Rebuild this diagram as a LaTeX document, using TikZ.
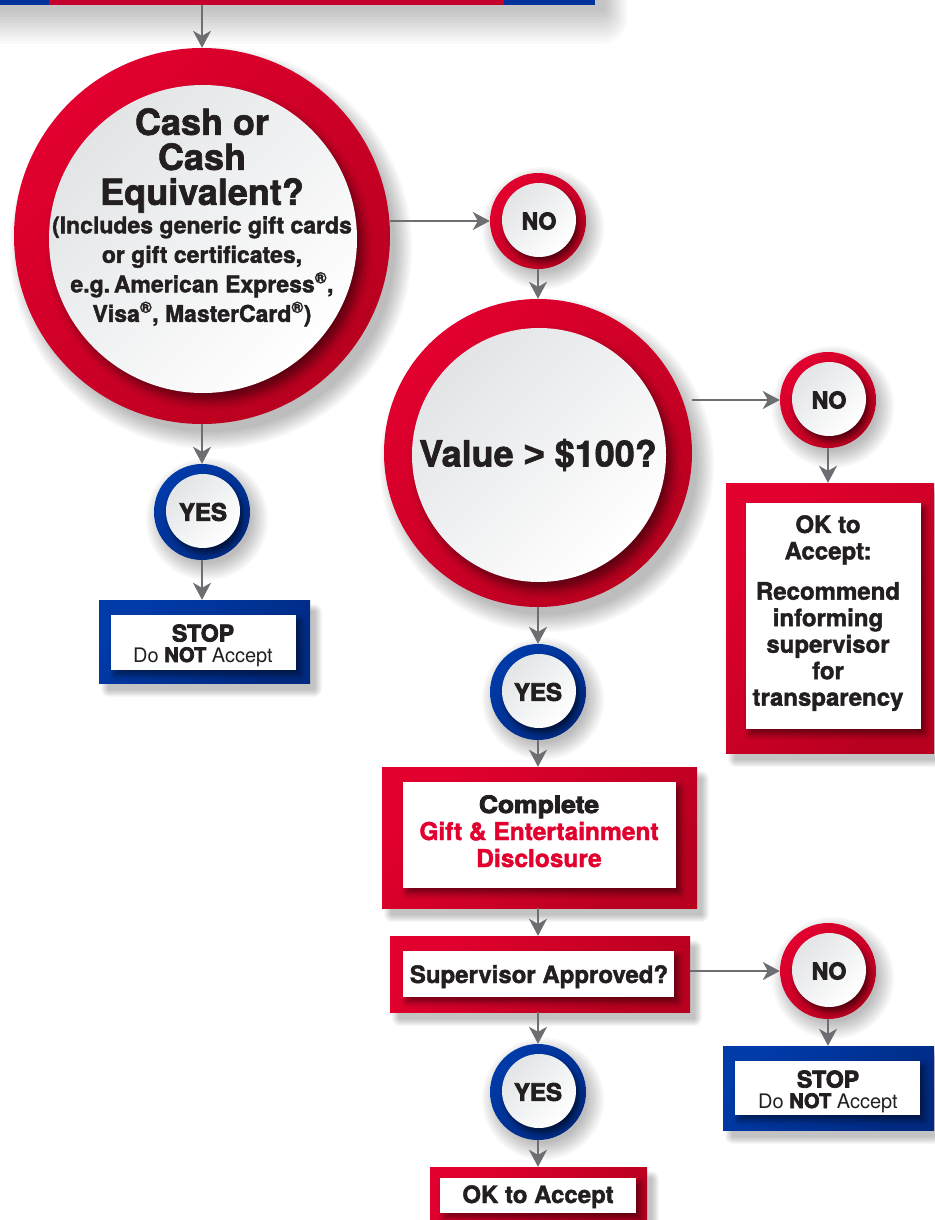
\documentclass[tikz,border=0pt]{standalone}
\usepackage{fontspec}
\usepackage{graphicx}
\setmainfont{TeX Gyre Heros}[BoldFeatures={FakeBold=1.7}]
\newfontfamily\heavyfont[BoldFeatures={FakeBold=3.5}]{TeX Gyre Heros}
\newfontfamily\arialfont[BoldFeatures={FakeBold=1.7}]{Liberation Sans}
\usetikzlibrary{arrows.meta,shadows.blur,backgrounds}
\definecolor{redL}{HTML}{E2002F}
\definecolor{redD}{HTML}{B8001F}
\definecolor{blueL}{HTML}{003BAA}
\definecolor{blueD}{HTML}{002A82}
\definecolor{arrowgray}{HTML}{6D6E71}
\definecolor{ink}{HTML}{231F20}
\definecolor{discgray}{HTML}{E2E4E6}
\definecolor{barred}{HTML}{C4002B}
\definecolor{barblue}{HTML}{00349A}
\newcommand\softcirc[4]{%
  \foreach \k in {0,...,9}{\fill[black,opacity=0.028] ([shift={(#3,#4)}]#1.center) circle[radius={(#2-4+1.9*\k)*1pt}];}}
\newcommand\softrect[3]{%
  \foreach \k in {0,...,7}{\fill[black,opacity=0.03,rounded corners={(2+\k)*1pt}]
    ([shift={(#2-\k+2,#3-\k+2)}]#1.north west) rectangle ([shift={(#2+\k-2,#3+\k-2)}]#1.south east);}}
\newcommand\barshadow[1]{%
  \foreach \k in {0,...,11}{\fill[black,opacity=0.018,rounded corners={(3+2*\k)*1pt}]
    ([shift={(-20-2*\k,-40)}]#1.north west) rectangle ([shift={(10+2*\k,6+3*\k)}]#1.south east);}}
\tikzset{
  every node/.style={text=ink},
  ringbig/.style={circle, inner sep=0pt, top color=redL, bottom color=redD, shading angle=45},
  discbig/.style={circle, inner sep=0pt, top color=discgray, bottom color=white, shading angle=45,
    blur shadow={shadow xshift=6pt, shadow yshift=-8pt, shadow blur radius=9pt, shadow opacity=50}},
  ringsmallred/.style={circle, inner sep=0pt, minimum size=96pt, top color=redL, bottom color=redD, shading angle=45},
  ringsmallblue/.style={circle, inner sep=0pt, minimum size=96pt, top color=blueL, bottom color=blueD, shading angle=45},
  discsmall/.style={circle, inner sep=0pt, minimum size=74pt, top color=discgray, bottom color=white, shading angle=45,
    blur shadow={shadow xshift=3pt, shadow yshift=-5pt, shadow blur radius=5pt, shadow opacity=55}},
  framered/.style={rectangle, inner sep=0pt, top color=redL, bottom color=redD, shading angle=45},
  frameblue/.style={rectangle, inner sep=0pt, top color=blueL, bottom color=blueD, shading angle=45},
  panel/.style={rectangle, inner sep=0pt, fill=white,
    blur shadow={shadow xshift=4pt, shadow yshift=-5pt, shadow blur radius=6pt, shadow opacity=50}},
  yesno/.style={inner sep=0pt, font=\heavyfont\bfseries\fontsize{23}{23}\selectfont},
  lines/.style={inner sep=0pt, align=center},
  arr/.style={draw=arrowgray, line width=2pt, -{Stealth[length=17pt, width=18pt, inset=5pt]}},
}
\begin{document}
\begin{tikzpicture}[x=1pt, y=-1pt]
\useasboundingbox (0,0) rectangle (934,1220);

% top bar (bottom of the previous box)
\node[rectangle, inner sep=0pt, fill=barblue, minimum width=595pt, minimum height=70pt, anchor=south west] (topbar) at (0,5) {};
\fill[barred] (49,-65) rectangle (504,5);

% ---------- circle 1
\node[ringbig, minimum size=376pt] (c1) at (202,236) {};
\node[discbig, minimum size=308pt] (c1d) at (203,239) {};
\node[lines, anchor=north, font=\fontsize{36}{35}\selectfont\bfseries] (c1t) at (202,108)
  {Cash or\\Cash\\Equivalent?};
\node[lines, anchor=north, font=\fontsize{23}{29.5}\selectfont\bfseries] (c1s) at (202,216)
  {(Includes generic gift cards\\or gift certificates,\\e.g.\,American Express\textsuperscript{\textregistered},\\Visa\textsuperscript{\textregistered}, MasterCard\textsuperscript{\textregistered})};

% NO 1
\node[ringsmallred] (no1) at (538,221) {};
\node[discsmall] (no1d) at (539,220) {};
\node[yesno] (no1t) at (539,221) {NO};

% ---------- circle 2
\node[ringbig, minimum size=308pt] (c2) at (538,453) {};
\node[discbig, minimum size=254pt] (c2d) at (539,455) {};
\node[inner sep=0pt, font=\fontsize{36}{40}\selectfont\bfseries] (c2t) at (538,455) {Value {\arialfont\bfseries >} \$100?};

% NO 2
\node[ringsmallred] (no2) at (828,400) {};
\node[discsmall] (no2d) at (829,399) {};
\node[yesno] (no2t) at (829,400) {NO};

% OK to accept (right)
\node[framered, minimum width=208pt, minimum height=270pt] (okr) at (830,618) {};
\node[panel, minimum width=175pt, minimum height=226pt] (okri) at (833.5,616) {};
\node[lines, anchor=north, font=\fontsize{24}{26.5}\selectfont\bfseries] (okrt) at (828,515)
  {OK to\\Accept:};
\node[lines, anchor=north, font=\fontsize{24}{26.5}\selectfont\bfseries] (okrs) at (828,582)
  {Recommend\\informing\\supervisor\\for\\transparency};

% YES 1
\node[ringsmallblue] (yes1) at (202,512) {};
\node[discsmall] (yes1d) at (203,511) {};
\node[yesno, font=\heavyfont\bfseries\fontsize{24}{24}\selectfont] (yes1t) at (203,512) {YES};

% STOP 1
\node[frameblue, minimum width=211pt, minimum height=83pt] (stop1) at (204.5,641.5) {};
\node[panel, minimum width=185pt, minimum height=55pt] (stop1i) at (203.5,642.5) {};
\node[inner sep=0pt, anchor=base, font=\heavyfont\bfseries\fontsize{23}{23}\selectfont] (stop1t) at (203,641.5) {STOP};
\node[inner sep=0pt, anchor=base, font=\fontsize{20}{20}\selectfont] (stop1s) at (203,662) {Do {\heavyfont\bfseries NOT} Accept};

% YES 2
\node[ringsmallblue] (yes2) at (538,692) {};
\node[discsmall] (yes2d) at (539,691) {};
\node[yesno, font=\heavyfont\bfseries\fontsize{24}{24}\selectfont] (yes2t) at (538,692) {YES};

% Complete box
\node[framered, minimum width=315pt, minimum height=141pt] (comp) at (539.5,837.5) {};
\node[panel, minimum width=273pt, minimum height=106pt] (compi) at (539.5,835) {};
\node[inner sep=0pt, anchor=base, font=\heavyfont\bfseries\fontsize{24}{24}\selectfont] (compt) at (539,813) {\scalebox{1.1}[1]{Complete}};
\node[lines, anchor=base, text=redL, font=\fontsize{24.5}{27}\selectfont\bfseries] (comps) at (539,840) {Gift \& Entertainment};
\node[lines, anchor=base, text=redL, font=\fontsize{24.5}{27}\selectfont\bfseries] (compu) at (539,867) {Disclosure};

% Supervisor approved
\node[framered, minimum width=300pt, minimum height=76pt] (sup) at (540,974) {};
\node[panel, minimum width=271pt, minimum height=46pt] (supi) at (538.5,974) {};
\node[inner sep=0pt, anchor=base, font=\fontsize{24}{24}\selectfont\bfseries] (supt) at (539,983) {Supervisor Approved?};

% NO 3
\node[ringsmallred] (no3) at (828,971) {};
\node[discsmall] (no3d) at (829,970) {};
\node[yesno] (no3t) at (829,971) {NO};

% STOP 2
\node[frameblue, minimum width=211pt, minimum height=84pt] (stop2) at (828.5,1088) {};
\node[panel, minimum width=185pt, minimum height=54pt] (stop2i) at (827.5,1088) {};
\node[inner sep=0pt, anchor=base, font=\heavyfont\bfseries\fontsize{23}{23}\selectfont] (stop2t) at (828,1087.5) {STOP};
\node[inner sep=0pt, anchor=base, font=\fontsize{20}{20}\selectfont] (stop2s) at (828,1108) {Do {\heavyfont\bfseries NOT} Accept};

% YES 3
\node[ringsmallblue] (yes3) at (538,1092) {};
\node[discsmall] (yes3d) at (539,1091) {};
\node[yesno, font=\heavyfont\bfseries\fontsize{24}{24}\selectfont] (yes3t) at (538,1092) {YES};

% OK to accept (bottom)
\node[framered, minimum width=217pt, minimum height=58pt] (okb) at (538.5,1196) {};
\node[panel, minimum width=196pt, minimum height=35pt] (okbi) at (538,1195.5) {};
\node[inner sep=0pt, anchor=base, font=\fontsize{24}{24}\selectfont\bfseries] (okbt) at (538,1203) {OK to Accept};

% ---------- soft drop shadows (behind everything)
\begin{scope}[on background layer]
\fill[white] (0,0) rectangle (934,1220);
\barshadow{topbar}
\softcirc{c1}{188}{9}{12}
\softcirc{c2}{154}{9}{12}
\softcirc{no1}{48}{5}{7}
\softcirc{no2}{48}{5}{7}
\softcirc{no3}{48}{5}{7}
\softcirc{yes1}{48}{5}{7}
\softcirc{yes2}{48}{5}{7}
\softcirc{yes3}{48}{5}{7}
\softrect{stop1}{7}{9}
\softrect{stop2}{7}{9}
\softrect{okr}{7}{9}
\softrect{comp}{7}{9}
\softrect{sup}{7}{9}
\softrect{okb}{7}{9}
\end{scope}

% ---------- connectors
\draw[arr] (topbar.south -| c1.north) -- (c1.north);
\draw[arr] (no1.west -| c1.east) -- (no1.west);
\draw[arr] (c1.south) -- (yes1.north);
\draw[arr] (yes1.south) -- (stop1.north -| yes1.south);
\draw[arr] (no1.south) -- (c2.north);
\draw[arr] (no2.west -| c2.east) -- (no2.west);
\draw[arr] (no2.south) -- (okr.north -| no2.south);
\draw[arr] (c2.south) -- (yes2.north);
\draw[arr] (yes2.south) -- (comp.north -| yes2.south);
\draw[arr] (comp.south -| yes2.south) -- (sup.north -| yes2.south);
\draw[arr] (sup.east |- no3.west) -- (no3.west);
\draw[arr] (no3.south) -- (stop2.north -| no3.south);
\draw[arr] (sup.south -| yes3.north) -- (yes3.north);
\draw[arr] (yes3.south) -- (okb.north -| yes3.south);
\end{tikzpicture}
\end{document}
